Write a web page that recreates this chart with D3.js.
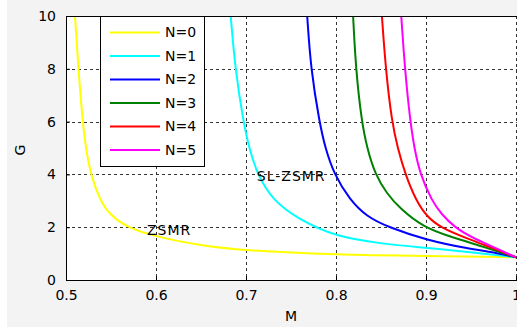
<!DOCTYPE html>
<html>
<head>
<meta charset="utf-8">
<script src="https://cdn.jsdelivr.net/npm/d3@7"></script>
<style>
  body { margin: 0; background: #fff; }
  svg text { font-family: "DejaVu Sans", sans-serif; font-size: 14px; fill: #000; }
</style>
</head>
<body>
<svg id="chart"></svg>
<script>
// values, [M, G]
const seriesNames = ["N=0", "N=1", "N=2", "N=3", "N=4", "N=5"];
const colors = ["#ffff00", "#00ffff", "#0000ff", "#008000", "#ff0000", "#ff00ff"];
const n0 = [[0.510, 10], [0.5137, 8], [0.5185, 6], [0.522, 5], [0.5274, 4], [0.538, 3], [0.548, 2.5], [0.567, 2], [0.6, 1.64], [0.65, 1.3], [0.7, 1.11], [0.8, 0.96], [0.9, 0.91], [1.0, 0.86]];
const n1 = [[0.683, 10], [0.688, 8], [0.697, 6], [0.7035, 5], [0.7125, 4], [0.73, 3], [0.76, 2.27], [0.8, 1.64], [0.849, 1.38], [0.9, 1.22], [0.945, 1.07], [1.0, 0.86]];
const n2 = [[0.768, 10], [0.772, 8], [0.7815, 6], [0.788, 5], [0.798, 4], [0.815, 3.05], [0.834, 2.4], [0.858, 2.0], [0.9, 1.52], [0.945, 1.2], [0.982, 1.01], [1.0, 0.86]];
const n3 = [[0.819, 10], [0.822, 8], [0.8285, 6], [0.8345, 5], [0.8435, 4], [0.8563, 3.28], [0.871, 2.71], [0.897, 2.0], [0.9267, 1.64], [0.9637, 1.26], [1.0, 0.86]];
const n4 = [[0.851, 10], [0.8552, 8], [0.862, 6], [0.8685, 5], [0.877, 4], [0.889, 3], [0.901, 2.4], [0.9156, 2.0], [0.945, 1.58], [0.975, 1.2], [1.0, 0.86]];
const n5 = [[0.8725, 10], [0.8765, 8], [0.8825, 6], [0.887, 5], [0.8935, 4], [0.9065, 3], [0.917, 2.5], [0.9315, 2.0], [0.9526, 1.58], [0.982, 1.14], [1.0, 0.86]];
const allSeries = [n0, n1, n2, n3, n4, n5];
const xTicks = [0.5, 0.6, 0.7, 0.8, 0.9, 1];
const yTicks = [0, 2, 4, 6, 8, 10];
const xTickLabels = ["0.5", "0.6", "0.7", "0.8", "0.9", "1"];
const notes = [{ text: "ZSMR", m: 0.59, g: 1.88 }, { text: "SL-ZSMR", m: 0.712, g: 3.92 }];

const width = 517;
const height = 329;
const margin = { top: 16, right: 1, bottom: 49, left: 66 };
const innerWidth = width - margin.left - margin.right;
const innerHeight = height - margin.top - margin.bottom;

const svg = d3.select("#chart").attr("width", width).attr("height", height);

// figure background
svg.append("rect")
  .attr("x", 7).attr("y", 0)
  .attr("width", width - 7).attr("height", 327)
  .attr("fill", "#f3f3f3");

const chart = svg.append("g")
  .attr("transform", `translate(${margin.left}, ${margin.top})`);

const xscale = d3.scaleLinear().domain([0.5, 1]).range([0, 450]);
const yscale = d3.scaleLinear().domain([0, 10]).range([innerHeight, 0]);

chart.append("rect")
  .attr("width", innerWidth + 1).attr("height", innerHeight)
  .attr("fill", "#fff");

chart.append("clipPath").attr("id", "clip")
  .append("rect").attr("width", innerWidth + 1).attr("height", innerHeight);

// grid
chart.append("g")
  .selectAll("line")
  .data(xTicks.slice(1))
  .join("line")
  .attr("x1", (d) => Math.round(xscale(d)) + 0.5)
  .attr("x2", (d) => Math.round(xscale(d)) + 0.5)
  .attr("y1", 0).attr("y2", innerHeight)
  .attr("stroke", "#333").attr("stroke-dasharray", "3,3");

chart.append("g")
  .selectAll("line")
  .data(yTicks.slice(1))
  .join("line")
  .attr("x1", 0).attr("x2", innerWidth + 1)
  .attr("y1", (d) => Math.round(yscale(d)) + 0.5)
  .attr("y2", (d) => Math.round(yscale(d)) + 0.5)
  .attr("stroke", "#333").attr("stroke-dasharray", "3,3");

// curves
const line = d3.line()
  .x((d) => xscale(d[0]))
  .y((d) => yscale(d[1]))
  .curve(d3.curveBasis);

chart.append("g")
  .attr("clip-path", "url(#clip)")
  .selectAll("path")
  .data(allSeries)
  .join("path")
  .attr("d", (d) => line(d))
  .attr("fill", "none")
  .attr("stroke", (d, i) => colors[i])
  .attr("stroke-width", 2);

// axes box
chart.append("line")
  .attr("x1", 0).attr("x2", innerWidth + 1)
  .attr("y1", 0.5).attr("y2", 0.5)
  .attr("stroke", "#000");

const xaxis = d3.axisBottom(xscale)
  .tickValues(xTicks)
  .tickSizeInner(-4)
  .tickSizeOuter(0)
  .tickPadding(10)
  .tickFormat((d, i) => xTickLabels[i]);
const xaxisGroup = chart.append("g")
  .attr("transform", `translate(0, ${innerHeight})`)
  .call(xaxis);

const yaxis = d3.axisLeft(yscale)
  .tickValues(yTicks)
  .tickSizeInner(-4)
  .tickSizeOuter(0)
  .tickPadding(10);
const yaxisGroup = chart.append("g").call(yaxis);

[xaxisGroup, yaxisGroup].forEach((g) => {
  g.select(".domain").attr("stroke", "#000");
  g.selectAll(".tick line").attr("stroke", "#000");
  g.selectAll("text")
    .style("font-family", "DejaVu Sans, sans-serif")
    .style("font-size", "14px")
    .attr("fill", "#000");
});
xaxisGroup.select(".domain").attr("d", `M0,0.5H${innerWidth + 1}`);

// annotations
chart.append("g")
  .selectAll("text")
  .data(notes)
  .join("text")
  .attr("x", (d) => xscale(d.m))
  .attr("y", (d) => yscale(d.g))
  .attr("dy", "0.35em")
  .style("letter-spacing", "1px")
  .text((d) => d.text);

// legend
const legend = chart.append("g").attr("transform", "translate(34, 0)");
legend.append("rect")
  .attr("x", 0.5).attr("y", 0.5)
  .attr("width", 104).attr("height", 150)
  .attr("fill", "#fff").attr("stroke", "#000");

const entries = legend.selectAll("g.entry")
  .data(seriesNames)
  .join("g")
  .attr("class", "entry")
  .attr("transform", (d, i) => `translate(0, ${16.5 + i * 23.5})`);
entries.append("line")
  .attr("x1", 10).attr("x2", 60)
  .attr("stroke", (d, i) => colors[i])
  .attr("stroke-width", 2);
entries.append("text")
  .attr("x", 65)
  .attr("dy", "0.35em")
  .text((d) => d);

// axis titles
svg.append("text")
  .attr("x", margin.left + 225)
  .attr("y", 321)
  .attr("text-anchor", "middle")
  .text("M");
svg.append("text")
  .attr("transform", "translate(25, 150) rotate(-90)")
  .attr("text-anchor", "middle")
  .text("G");
</script>
</body>
</html>
